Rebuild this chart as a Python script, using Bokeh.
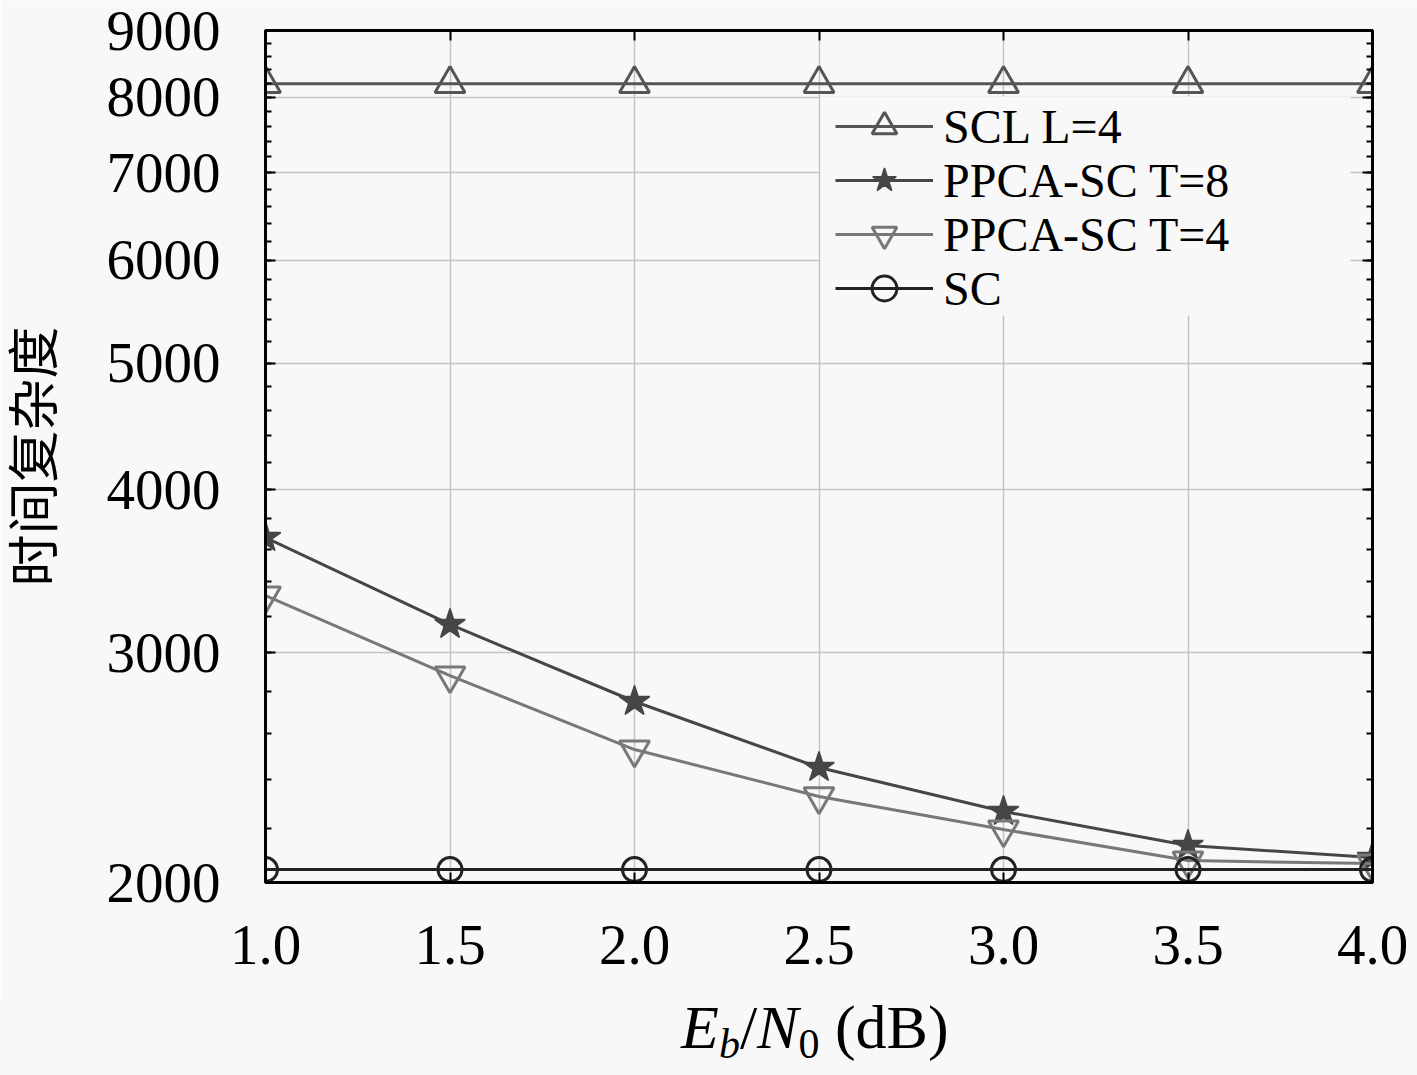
from bokeh.plotting import figure
from bokeh.models import (Range1d, FixedTicker, BasicTickFormatter, LinearAxis, LogAxis,
                          CustomJSTickFormatter, Legend, LegendItem, Div, BoxAnnotation)
from bokeh.layouts import column
from bokeh.embed import file_html
from bokeh.resources import INLINE

# ---- data ----
ebn0 = [1.0, 1.5, 2.0, 2.5, 3.0, 3.5, 4.0]
scl_l4 = [8192, 8192, 8192, 8192, 8192, 8192, 8192]
ppca_t8 = [3677, 3154, 2753, 2450, 2267, 2135, 2090]
ppca_t4 = [3319, 2882, 2529, 2328, 2196, 2079, 2068]
sc = [2046, 2046, 2046, 2046, 2046, 2046, 2046]

x_ticks = [1.0, 1.5, 2.0, 2.5, 3.0, 3.5, 4.0]
y_ticks = [2000, 3000, 4000, 5000, 6000, 7000, 8000, 9000]
y_minor = [v for v in range(2000, 9001, 200)]

series_labels = ["SCL L=4", "PPCA-SC T=8", "PPCA-SC T=4", "SC"]
y_label = "时间复杂度"

BG = "#f8f8f8"
TICK_FONT = "Liberation Serif"

p = figure(width=1417, height=1000, output_backend="svg", toolbar_location=None,
           y_axis_type="log", x_range=Range1d(1.0, 4.0), y_range=Range1d(2000, 9000),
           min_border_left=265, min_border_right=45, min_border_top=30, min_border_bottom=118,
           background_fill_color=BG, border_fill_color=BG)

p.outline_line_color = "black"
p.outline_line_width = 3

# axes
xax = p.xaxis[0]
xax.ticker = FixedTicker(ticks=x_ticks, minor_ticks=[])
xax.formatter = CustomJSTickFormatter(code="return tick.toFixed(1);")
yax = p.yaxis[0]
yax.ticker = FixedTicker(ticks=y_ticks, minor_ticks=y_minor)
yax.formatter = BasicTickFormatter(use_scientific=False)
for ax in (xax, yax):
    ax.axis_line_width = 3
    ax.axis_line_color = "black"
    ax.major_tick_in = 10
    ax.major_tick_out = 0
    ax.minor_tick_in = 6
    ax.minor_tick_out = 0
    ax.major_tick_line_width = 2
    ax.minor_tick_line_width = 2
    ax.major_label_text_font = TICK_FONT
    ax.major_label_text_font_size = "57px"
    ax.major_label_text_color = "black"
xax.major_label_standoff = 43
yax.major_label_standoff = 45
xax.axis_label = None
yax.axis_label = y_label
yax.axis_label_text_font = "Liberation Serif, Noto Sans CJK SC"
yax.axis_label_text_font_size = "52px"
yax.axis_label_text_font_style = "normal"
yax.axis_label_text_color = "black"
yax.axis_label_standoff = 40

empty = CustomJSTickFormatter(code="return '';")
top = LinearAxis(ticker=FixedTicker(ticks=x_ticks, minor_ticks=[]), formatter=empty,
                 major_tick_in=10, major_tick_out=0, minor_tick_in=0, minor_tick_out=0,
                 major_tick_line_width=2, axis_line_width=3, major_label_standoff=0,
                 major_label_text_font_size="1px")
right = LogAxis(ticker=FixedTicker(ticks=y_ticks, minor_ticks=y_minor), formatter=empty,
                major_tick_in=10, major_tick_out=0, minor_tick_in=6, minor_tick_out=0,
                major_tick_line_width=2, minor_tick_line_width=2, axis_line_width=3,
                major_label_standoff=0, major_label_text_font_size="1px")
p.add_layout(top, "above")
p.add_layout(right, "right")

# grid
p.xgrid.ticker = FixedTicker(ticks=x_ticks)
p.ygrid.ticker = FixedTicker(ticks=y_ticks)
for g in (p.xgrid[0], p.ygrid[0]):
    g.grid_line_color = "#c4c4c4"
    g.grid_line_width = 1.5

# series
c_scl, c_t8, c_t4, c_sc = "#555555", "#464646", "#787878", "#222222"
r1l = p.line(ebn0, scl_l4, line_color=c_scl, line_width=3)
r1m = p.scatter(ebn0, scl_l4, marker="triangle", size=30, line_color=c_scl, line_width=3,
                fill_color=None)
r2l = p.line(ebn0, ppca_t8, line_color=c_t8, line_width=3)
r2m = p.scatter(ebn0, ppca_t8, marker="star", size=32, line_color=c_t8, line_width=1.5,
                fill_color=c_t8)
r3l = p.line(ebn0, ppca_t4, line_color=c_t4, line_width=3)
r3m = p.scatter(ebn0, ppca_t4, marker="inverted_triangle", size=30, line_color=c_t4,
                line_width=3, fill_color=None)
r4l = p.line(ebn0, sc, line_color=c_sc, line_width=3)
r4m = p.scatter(ebn0, sc, marker="circle", size=24, line_color=c_sc, line_width=3,
                fill_color=None)

# legend background box (frame-relative screen units)
p.add_layout(BoxAnnotation(left=555, right=1085, bottom=567, top=786,
                           left_units="screen", right_units="screen",
                           bottom_units="screen", top_units="screen",
                           fill_color=BG, fill_alpha=1.0, line_color=None))

# one legend per row so that rows sit tight like the reference
renderer_pairs = [(r1l, r1m), (r2l, r2m), (r3l, r3m), (r4l, r4m)]
row_offsets = [725, 671, 617, 563]
for lbl, rends, yoff in zip(series_labels, renderer_pairs, row_offsets):
    lg = Legend(items=[LegendItem(label=lbl, renderers=list(rends))], location=(570, yoff))
    lg.background_fill_alpha = 0.0
    lg.border_line_color = None
    lg.label_text_font = TICK_FONT
    lg.label_text_font_size = "48px"
    lg.label_text_color = "black"
    lg.glyph_width = 98
    lg.glyph_height = 62
    lg.label_standoff = 10
    lg.padding = 0
    lg.spacing = 0
    lg.margin = 0
    p.add_layout(lg, "center")

# x axis label as HTML text:  E_b / N_0 (dB)
xlabel_html = (
    "<div style=\"margin-left:681px;margin-top:-4px;font-family:'Liberation Serif';"
    "font-size:62px;line-height:62px;white-space:nowrap;color:black;\">"
    "<i>E</i><sub style=\"font-size:42px;vertical-align:-10px;line-height:0;\"><i>b</i></sub>"
    "/<i>N</i><sub style=\"font-size:42px;vertical-align:-10px;line-height:0;\">0</sub>"
    "&nbsp;(dB)</div>"
)
xlabel = Div(text=xlabel_html, width=1417, height=75, margin=0,
             styles={"background-color": BG})

layout = column(p, xlabel, spacing=0)
open("out.html", "w").write(file_html(layout, INLINE))
